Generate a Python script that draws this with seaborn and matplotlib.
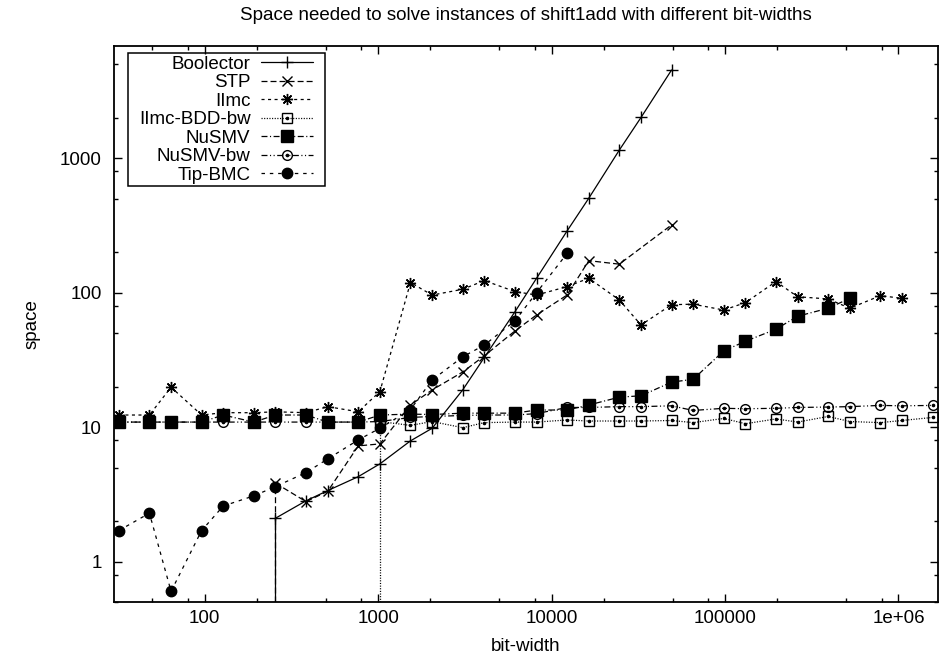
import matplotlib
matplotlib.use("Agg")
import pandas as pd
import matplotlib.pyplot as plt
import matplotlib.ticker as mticker
from matplotlib.patches import Rectangle
import seaborn as sns

# bit-widths of the shift1add instances
bit_widths = [32, 48, 64, 96, 128, 192, 256, 384, 512, 768, 1024, 1536, 2048, 3072,
              4096, 6144, 8192, 12288, 16384, 24576, 32768, 49152, 65536, 98304,
              131072, 196608, 262144, 393216, 524288, 786432, 1048576, 1572864]

# space per solver; None = no result, 0 = reported zero
boolector = [0, 0, 0, 0, 0, 0, 2.10, 2.83, 3.37, 4.28, 5.33, 7.9, 9.8, 18.9,
             33, 72, 128, 288, 504, 1150, 2010, 4530, None, None,
             None, None, None, None, None, None, None, None]
stp = [0, 0, 0, 0, 0, 0, 3.83, 2.79, 3.33, 7.25, 7.5, 14.6, 18.9, 25.7,
       33.9, 51.9, 68.3, 96.1, 173, 163, None, 319, None, None,
       None, None, None, None, None, None, None, None]
iimc = [12.3, 12.3, 19.8, 12.3, 12.8, 12.8, 13.0, 12.8, 14.2, 13.0, 18.4, 119, 96, 106,
        123, 102, 96, 111, 128, 88.3, 57.5, 81.4, 82.1, 74.3,
        84.3, 121, 93.3, 89.8, 76.6, 95, 90.8, None]
iimc_bdd_bw = [0, 0, 0, 0, 0, 0, 0, 0, 0, 0, 11.0, 10.3, 11.0, 9.9,
               10.8, 10.9, 10.9, 11.3, 11.1, 11.1, 11.1, 11.2, 10.8, 11.6,
               10.6, 11.5, 10.9, 12.0, 11.0, 10.8, 11.2, 11.8]
nusmv = [10.9, 10.9, 10.9, 10.9, 12.3, 10.9, 12.3, 12.3, 10.9, 10.9, 12.3, 12.5, 12.4, 12.7,
         12.7, 12.7, 13.4, 13.4, 14.6, 16.7, 17.1, 21.6, 22.7, 36.9,
         43.5, 53.5, 66.8, 76.6, 90.8, None, None, None]
nusmv_bw = [10.9, 10.9, 10.9, 10.9, 10.9, 10.9, 10.9, 10.9, 10.9, 10.9, 11.0, 11.8, 12.0, 12.2,
            12.3, 12.3, 12.6, 14.0, 14.0, 14.2, 14.2, 14.4, 13.3, 13.8,
            13.7, 13.8, 14.0, 14.1, 14.2, 14.5, 14.4, 14.5]
tip_bmc = [1.70, 2.29, 0.60, 1.70, 2.59, 3.08, 3.61, 4.59, 5.80, 8.03, 9.81, 13.5, 22.4, 33.3,
           40.8, 61.6, 100, 196, None, None, None, None, None, None,
           None, None, None, None, None, None, None, None]

series_names = ["Boolector", "STP", "IImc", "IImc-BDD-bw", "NuSMV", "NuSMV-bw", "Tip-BMC"]
all_series = [boolector, stp, iimc, iimc_bdd_bw, nusmv, nusmv_bw, tip_bmc]

title = "Space needed to solve instances of shift1add with different bit-widths"

# gnuplot-like look
sns.set_theme(style="ticks")
plt.rcParams["font.family"] = ["Liberation Sans", "DejaVu Sans"]
plt.rcParams["lines.scale_dashes"] = False
plt.rcParams["text.color"] = "black"
plt.rcParams["axes.labelcolor"] = "black"
plt.rcParams["xtick.color"] = "black"
plt.rcParams["ytick.color"] = "black"
plt.rcParams["axes.edgecolor"] = "black"
FS = 13.5

# linestyle, marker, marker size, face colour, centre dot
styles = {
    "Boolector": ("-", "+", 8, "black", False),
    "STP": ((0, (4.3, 2.2)), "x", 7, "black", False),
    "IImc": ((0, (2.2, 2.5)), (8, 2, 0), 8, "black", False),
    "IImc-BDD-bw": ((0, (0.8, 1.1)), "s", 7.5, "none", True),
    "NuSMV": ((0, (4.3, 1.8, 0.8, 1.8)), "s", 8.5, "black", False),
    "NuSMV-bw": ((0, (4.3, 1.8, 0.8, 1.8, 0.8, 1.8)), "o", 7, "none", True),
    "Tip-BMC": ((0, (2.5, 3.5)), "o", 7.5, "black", False),
}

records = []
for name, vals in zip(series_names, all_series):
    for bw, v in zip(bit_widths, vals):
        records.append((name, bw, v))
df = pd.DataFrame(records, columns=["solver", "bit-width", "space"])

fig = plt.figure(figsize=(9.46, 6.58), dpi=100)
ax = fig.add_axes([114 / 946, 1 - 602 / 658, 824 / 946, 556 / 658])
ax.set_xscale("log")
ax.set_yscale("log")
ax.set_xlim(30, 1.69e6)
ax.set_ylim(0.5, 6840)
ylo = ax.get_ylim()[0]

handles = []
for name, vals in zip(series_names, all_series):
    ls, mk, ms, fc, dot = styles[name]
    sub = df[(df["solver"] == name) & (df["space"] > 0)]
    sns.lineplot(data=sub, x="bit-width", y="space", ax=ax, estimator=None, sort=False,
                 color="black", linestyle=ls, linewidth=0.9, marker=mk, markersize=ms,
                 markerfacecolor=fc, markeredgecolor="black", markeredgewidth=1.0,
                 clip_on=True)
    line = ax.lines[-1]
    h = line
    if dot:
        dl, = ax.plot(sub["bit-width"], sub["space"], linestyle="none", marker="o",
                      markersize=1.6, color="black")
        h = (line, dl)
    # a zero before a value: line drops to the bottom edge
    for i in range(1, len(vals)):
        if vals[i - 1] == 0 and vals[i] is not None and vals[i] > 0:
            ax.plot([bit_widths[i], bit_widths[i]], [ylo, vals[i]], color="black",
                    linestyle=ls, linewidth=0.9)
    handles.append(h)

ax.set_xlim(30, 1.69e6)
ax.set_ylim(0.5, 6840)

for axis in (ax.xaxis, ax.yaxis):
    axis.set_major_locator(mticker.LogLocator(base=10, numticks=20))
    axis.set_minor_locator(mticker.LogLocator(base=10, subs=[2, 5, 8], numticks=20))
    axis.set_major_formatter(mticker.FuncFormatter(lambda v, p: f"{v:g}"))
    axis.set_minor_formatter(mticker.NullFormatter())
ax.tick_params(which="both", direction="in", top=True, right=True, width=1.0)
ax.tick_params(which="major", length=6)
ax.tick_params(which="minor", length=3)
ax.tick_params(axis="x", pad=6, labelsize=FS)
ax.tick_params(axis="y", pad=9, labelsize=FS)
for sp in ax.spines.values():
    sp.set_linewidth(1.3)
    sp.set_color("black")

ax.set_title(title, fontsize=FS, pad=19)
ax.set_xlabel("bit-width", fontsize=FS, labelpad=8)
ax.set_ylabel("space", fontsize=FS, labelpad=14)

leg = ax.legend(handles, series_names, loc="upper right", markerfirst=False,
                bbox_to_anchor=(316 / 946, 1 - 53 / 658), bbox_transform=fig.transFigure,
                frameon=False, fontsize=FS, numpoints=1, handlelength=2.8,
                handletextpad=0.55, borderpad=0.15, borderaxespad=0, labelspacing=0.07)

fig.canvas.draw()
bb = leg.get_window_extent()
inv = fig.transFigure.inverted()
(x0, y0), (x1, y1) = inv.transform([(bb.x0 - 8, bb.y0), (bb.x1 + 9, bb.y1)])
fig.add_artist(Rectangle((x0, y0), x1 - x0, y1 - y0, transform=fig.transFigure,
                         fill=False, edgecolor="black", linewidth=1.1))

fig.savefig("out.png", dpi=100)
